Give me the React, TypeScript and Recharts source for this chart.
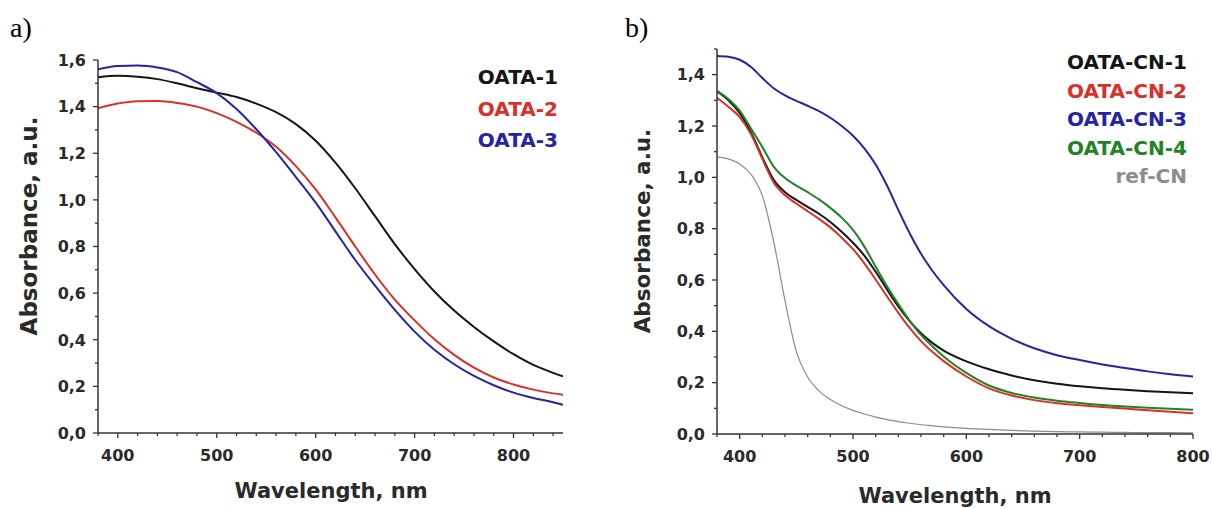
import { Legend, Line, LineChart, XAxis, YAxis } from 'recharts'

// ---- panel a) OATA films ----
const WL_A = [
  380, 400, 420, 440, 460, 480, 500, 520, 540, 560, 580, 600, 620, 640, 660,
  680, 700, 720, 740, 760, 780, 800, 820, 840, 850,
]
const OATA_1 = [
  1.526, 1.532, 1.528, 1.518, 1.5, 1.479, 1.46, 1.441, 1.413, 1.376, 1.325,
  1.254, 1.16, 1.05, 0.93, 0.81, 0.703, 0.607, 0.525, 0.455, 0.393, 0.338,
  0.292, 0.258, 0.243,
]
const OATA_2 = [
  1.393, 1.413, 1.423, 1.424, 1.416, 1.4, 1.372, 1.335, 1.288, 1.228, 1.145,
  1.045, 0.925, 0.8, 0.68, 0.572, 0.483, 0.402, 0.335, 0.28, 0.238, 0.208,
  0.186, 0.17, 0.164,
]
const OATA_3 = [
  1.56, 1.574, 1.576, 1.568, 1.548, 1.505, 1.458, 1.39, 1.303, 1.205, 1.098,
  0.988, 0.865, 0.742, 0.632, 0.528, 0.435, 0.357, 0.295, 0.245, 0.205, 0.173,
  0.15, 0.132, 0.121,
]

// ---- panel b) OATA-CN films ----
const WL_B = [
  380, 390, 400, 410, 420, 430, 440, 450, 460, 470, 480, 490, 500, 510, 520,
  530, 540, 550, 560, 570, 580, 600, 620, 640, 660, 680, 700, 720, 740, 760,
  780, 800,
]
const OATA_CN_1 = [
  1.335, 1.3, 1.25, 1.175, 1.078, 0.99, 0.942, 0.912, 0.885, 0.858, 0.826,
  0.788, 0.745, 0.695, 0.632, 0.563, 0.497, 0.44, 0.393, 0.355, 0.325, 0.283,
  0.252, 0.228, 0.209, 0.196, 0.186, 0.178, 0.172, 0.167, 0.163, 0.159,
]
const OATA_CN_2 = [
  1.31, 1.275, 1.235, 1.168, 1.072, 0.98, 0.93, 0.898, 0.868, 0.838, 0.805,
  0.765, 0.72, 0.665, 0.602, 0.536, 0.472, 0.413, 0.362, 0.32, 0.284, 0.224,
  0.178, 0.15, 0.132, 0.12, 0.112, 0.105, 0.099, 0.093, 0.087, 0.081,
]
const OATA_CN_3 = [
  1.473, 1.47, 1.458, 1.43, 1.387, 1.347, 1.319, 1.298, 1.279, 1.258, 1.232,
  1.2, 1.162, 1.113, 1.05, 0.968, 0.873, 0.782, 0.702, 0.636, 0.58, 0.487,
  0.42, 0.371, 0.334, 0.307, 0.288, 0.271, 0.257, 0.244, 0.233, 0.224,
]
const OATA_CN_4 = [
  1.337, 1.305, 1.26, 1.19, 1.118, 1.042, 0.997, 0.968, 0.942, 0.914, 0.881,
  0.843, 0.795, 0.73, 0.652, 0.576, 0.506, 0.442, 0.386, 0.342, 0.302, 0.238,
  0.189, 0.16, 0.142, 0.13, 0.121, 0.113, 0.107, 0.102, 0.098, 0.094,
]
const REF_CN = [
  1.08, 1.072, 1.052, 1.012, 0.928, 0.75, 0.52, 0.322, 0.222, 0.168, 0.134,
  0.11, 0.092, 0.078, 0.066, 0.056, 0.048, 0.042, 0.036, 0.032, 0.028, 0.022,
  0.018, 0.014, 0.011, 0.009, 0.008, 0.007, 0.006, 0.005, 0.005, 0.004,
]

// ticks
const X_TICKS_A = [
  380, 400, 420, 440, 460, 480, 500, 520, 540, 560, 580, 600, 620, 640, 660,
  680, 700, 720, 740, 760, 780, 800, 820, 840,
]
const X_TICKS_B = [
  380, 400, 420, 440, 460, 480, 500, 520, 540, 560, 580, 600, 620, 640, 660,
  680, 700, 720, 740, 760, 780, 800,
]
const Y_TICKS_A = [
  0, 0.1, 0.2, 0.3, 0.4, 0.5, 0.6, 0.7, 0.8, 0.9, 1.0, 1.1, 1.2, 1.3, 1.4,
  1.5, 1.6,
]
const Y_TICKS_B = [
  0, 0.1, 0.2, 0.3, 0.4, 0.5, 0.6, 0.7, 0.8, 0.9, 1.0, 1.1, 1.2, 1.3, 1.4,
  1.5,
]

const SERIES_A = [
  { name: 'OATA-1', values: OATA_1, color: '#151515', width: 2 },
  { name: 'OATA-2', values: OATA_2, color: '#dc2f2a', width: 2 },
  { name: 'OATA-3', values: OATA_3, color: '#2424a8', width: 2 },
]
const SERIES_B = [
  { name: 'OATA-CN-1', values: OATA_CN_1, color: '#151515', width: 2 },
  { name: 'OATA-CN-2', values: OATA_CN_2, color: '#dc2f2a', width: 2 },
  { name: 'OATA-CN-3', values: OATA_CN_3, color: '#2424a8', width: 2 },
  { name: 'OATA-CN-4', values: OATA_CN_4, color: '#1f8426', width: 2 },
  { name: 'ref-CN', values: REF_CN, color: '#8c8c8c', width: 1.2 },
]

const FONT = '"DejaVu Sans", "Liberation Sans", Arial, sans-serif'
const AXIS = '#333'
const FRAME = '#5a5a5a'
const TEXT = '#2a2a2a'

type Series = { name: string; values: number[]; color: string; width: number }

function toRows(wl: number[], series: Series[]) {
  return wl.map((w, i) => {
    const row: Record<string, number> = { wl: w }
    for (const s of series) row[s.name] = s.values[i]
    return row
  })
}

function XTick(props: any) {
  const { x, y, payload } = props
  const major = payload.value % 100 === 0
  return (
    <g>
      <line x1={x} x2={x} y1={y} y2={y + (major ? 5 : 3)} stroke={AXIS} strokeWidth={1.3} />
      {major && (
        <text
          x={x}
          y={y + 28}
          textAnchor="middle"
          fill={TEXT}
          style={{ fontFamily: FONT, fontWeight: 700, fontSize: 16 }}
        >
          {payload.value}
        </text>
      )}
    </g>
  )
}

function YTick(props: any) {
  const { x, y, payload } = props
  const v = payload.value as number
  const major = Math.round(v * 10) % 2 === 0
  return (
    <g>
      <line x1={x - (major ? 5 : 3)} x2={x} y1={y} y2={y} stroke={AXIS} strokeWidth={1.3} />
      {major && (
        <text
          x={x - 12}
          y={y}
          dy="0.36em"
          textAnchor="end"
          fill={TEXT}
          style={{ fontFamily: FONT, fontWeight: 700, fontSize: 16 }}
        >
          {v.toFixed(1).replace('.', ',')}
        </text>
      )}
    </g>
  )
}

function LegendList(props: any & { lineHeight: number }) {
  const { payload = [], lineHeight } = props
  return (
    <div
      style={{
        textAlign: 'right',
        fontFamily: FONT,
        fontWeight: 700,
        fontSize: 20,
        lineHeight: `${lineHeight}px`,
        whiteSpace: 'nowrap',
      }}
    >
      {payload.map((p: any) => (
        <div key={p.value} style={{ color: p.color }}>
          {p.value}
        </div>
      ))}
    </div>
  )
}

interface PanelProps {
  width: number
  margin: { top: number; right: number; bottom: number; left: number }
  wl: number[]
  series: Series[]
  xDomain: [number, number]
  xTicks: number[]
  yDomain: [number, number]
  yTicks: number[]
  legendTop: number
  legendRight: number
  legendLine: number
}

function Panel({
  width,
  margin,
  wl,
  series,
  xDomain,
  xTicks,
  yDomain,
  yTicks,
  legendTop,
  legendRight,
  legendLine,
}: PanelProps) {
  const data = toRows(wl, series)
  return (
    <LineChart width={width} height={508} data={data} margin={margin}>
      <XAxis
        dataKey="wl"
        type="number"
        domain={xDomain}
        ticks={xTicks}
        interval={0}
        height={40}
        tickSize={0}
        tickMargin={0}
        tickLine={false}
        axisLine={{ stroke: AXIS, strokeWidth: 1.5 }}
        tick={(p: any) => <XTick {...p} />}
        allowDataOverflow
      />
      <XAxis
        xAxisId="top"
        orientation="top"
        type="number"
        domain={xDomain}
        height={0}
        tick={false}
        tickLine={false}
        axisLine={{ stroke: FRAME, strokeWidth: 1.8 }}
      />
      <YAxis
        type="number"
        domain={yDomain}
        ticks={yTicks}
        interval={0}
        width={60}
        tickSize={0}
        tickMargin={0}
        tickLine={false}
        axisLine={{ stroke: AXIS, strokeWidth: 1.5 }}
        tick={(p: any) => <YTick {...p} />}
        allowDataOverflow
      />
      <YAxis
        yAxisId="right"
        orientation="right"
        type="number"
        domain={yDomain}
        width={0}
        tick={false}
        tickLine={false}
        axisLine={{ stroke: FRAME, strokeWidth: 1.5 }}
      />
      <Legend
        layout="vertical"
        align="center"
        verticalAlign="middle"
        wrapperStyle={{ top: legendTop, right: legendRight, width: 'auto' }}
        content={(p: any) => <LegendList {...p} lineHeight={legendLine} />}
      />
      {series.map((s) => (
        <Line
          key={s.name}
          type="monotone"
          dataKey={s.name}
          name={s.name}
          stroke={s.color}
          strokeWidth={s.width}
          dot={false}
          activeDot={false}
          isAnimationActive={false}
        />
      ))}
    </LineChart>
  )
}

export default function App() {
  return (
    <div
      style={{
        position: 'fixed',
        left: 0,
        top: 0,
        width: 1213,
        height: 508,
        background: '#fff',
        overflow: 'hidden',
      }}
    >
      <div style={{ position: 'absolute', left: 0, top: 0 }}>
        <Panel
          width={600}
          margin={{ top: 60, right: 37, bottom: 35, left: 38 }}
          wl={WL_A}
          series={SERIES_A}
          xDomain={[380, 850]}
          xTicks={X_TICKS_A}
          yDomain={[0, 1.6]}
          yTicks={Y_TICKS_A}
          legendTop={62}
          legendRight={42}
          legendLine={31.5}
        />
      </div>
      <div style={{ position: 'absolute', left: 600, top: 0 }}>
        <Panel
          width={613}
          margin={{ top: 49, right: 20, bottom: 34, left: 57 }}
          wl={WL_B}
          series={SERIES_B}
          xDomain={[380, 800]}
          xTicks={X_TICKS_B}
          yDomain={[0, 1.5]}
          yTicks={Y_TICKS_B}
          legendTop={48}
          legendRight={26}
          legendLine={28.5}
        />
      </div>
      <svg
        width={1213}
        height={508}
        style={{ position: 'absolute', left: 0, top: 0, pointerEvents: 'none' }}
      >
        <g style={{ fontFamily: '"Liberation Serif", "Times New Roman", serif', fontSize: 28 }}>
          <text x={10} y={37}>a)</text>
          <text x={625} y={37}>b)</text>
        </g>
        <g style={{ fontFamily: FONT, fontWeight: 700 }} fill={TEXT}>
          <text x={331} y={498} textAnchor="middle" fontSize={21}>
            Wavelength, nm
          </text>
          <text x={955} y={503} textAnchor="middle" fontSize={21}>
            Wavelength, nm
          </text>
          <text transform="translate(37,226) rotate(-90)" textAnchor="middle" fontSize={23}>
            Absorbance, a.u.
          </text>
          <text transform="translate(650,231) rotate(-90)" textAnchor="middle" fontSize={21.5}>
            Absorbance, a.u.
          </text>
        </g>
      </svg>
    </div>
  )
}
